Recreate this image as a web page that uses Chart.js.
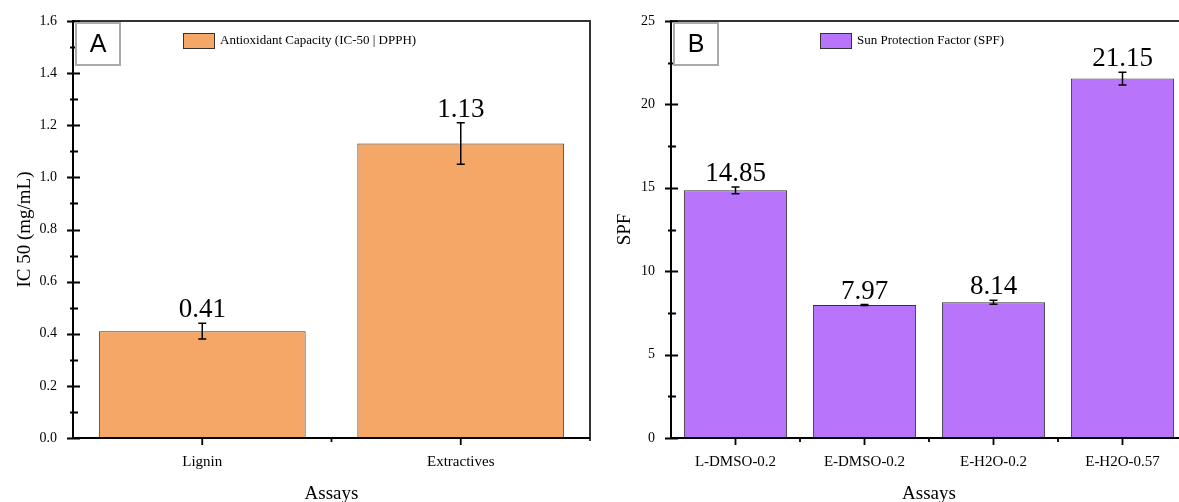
<!DOCTYPE html>
<html>
<head>
<meta charset="utf-8">
<script src="https://cdn.jsdelivr.net/npm/chart.js@4"></script>
<style>
  html, body { margin: 0; padding: 0; background: #fff; overflow: hidden; width: 1179px; height: 502px; }
  #wrapA { position: absolute; left: 0; top: 0; width: 600px; height: 502px; }
  #wrapB { position: absolute; left: 600px; top: 0; width: 600px; height: 502px; }
</style>
</head>
<body>
<div id="wrapA"><canvas id="canvasA"></canvas></div>
<div id="wrapB"><canvas id="canvasB"></canvas></div>
<script>
// Panel A - antioxidant capacity
const catsA = ['Lignin', 'Extractives'];
const valuesA = [0.41, 1.13];
const errorsA = [0.03, 0.08];
const labelsA = ['0.41', '1.13'];

// Panel B - sun protection factor
const catsB = ['L-DMSO-0.2', 'E-DMSO-0.2', 'E-H2O-0.2', 'E-H2O-0.57'];
const valuesB = [14.85, 7.97, 8.14, 21.55];
const errorsB = [0.2, 0.03, 0.12, 0.38];
const labelsB = ['14.85', '7.97', '8.14', '21.15'];

const serif = '"Liberation Serif", "Times New Roman", serif';

// error bars, value labels, frame, ticks, legend and panel letter
const decor = {
  id: 'decor',
  afterDatasetsDraw(chart, args, opts) {
    const { ctx, chartArea: a, scales: { x, y } } = chart;
    const meta = chart.getDatasetMeta(0);
    ctx.save();

    // error bars + labels
    meta.data.forEach((bar, i) => {
      const v = opts.values[i], e = opts.errors[i];
      const t = y.getPixelForValue(v + e), b = y.getPixelForValue(v - e);
      ctx.strokeStyle = '#000';
      ctx.lineWidth = 1.5;
      ctx.beginPath();
      ctx.moveTo(bar.x, t); ctx.lineTo(bar.x, b);
      ctx.moveTo(bar.x - 4, t); ctx.lineTo(bar.x + 4, t);
      ctx.moveTo(bar.x - 4, b); ctx.lineTo(bar.x + 4, b);
      ctx.stroke();
      ctx.fillStyle = '#000';
      ctx.font = '27px ' + serif;
      ctx.textAlign = 'center';
      ctx.textBaseline = 'alphabetic';
      ctx.fillText(opts.labels[i], bar.x, t - 6);
    });

    // frame top + right
    ctx.strokeStyle = '#333';
    ctx.lineWidth = 2;
    ctx.beginPath();
    ctx.moveTo(a.left, a.top); ctx.lineTo(a.right, a.top); ctx.lineTo(a.right, a.bottom + 3);
    ctx.stroke();

    // axes
    ctx.strokeStyle = '#000';
    ctx.beginPath();
    ctx.moveTo(a.left, a.top - 1); ctx.lineTo(a.left, a.bottom + 1);
    ctx.moveTo(a.left - 1, a.bottom); ctx.lineTo(a.right, a.bottom);
    ctx.stroke();

    // y ticks
    ctx.lineWidth = 1.8;
    ctx.beginPath();
    for (let v = y.min; v <= y.max + 1e-9; v += opts.minorStep) {
      const py = Math.round(y.getPixelForValue(v)) + 0.5;
      const major = Math.abs(v / opts.majorStep - Math.round(v / opts.majorStep)) < 1e-6;
      ctx.moveTo(a.left - (major ? 6 : 3), py);
      ctx.lineTo(a.left + (major ? 7 : 5), py);
    }
    // x ticks
    const n = opts.values.length;
    const w = (a.right - a.left) / n;
    for (let i = 0; i < n; i++) {
      const px = x.getPixelForValue(i);
      ctx.moveTo(px, a.bottom); ctx.lineTo(px, a.bottom + 7);
      if (i > 0) { ctx.moveTo(px - w / 2, a.bottom); ctx.lineTo(px - w / 2, a.bottom + 4); }
    }
    ctx.stroke();

    // legend
    const lx = a.left + opts.legendX, ly = a.top + 12;
    ctx.fillStyle = opts.color;
    ctx.fillRect(lx, ly, 31, 15);
    ctx.strokeStyle = '#333';
    ctx.lineWidth = 1;
    ctx.strokeRect(lx + 0.5, ly + 0.5, 31, 15);
    ctx.fillStyle = '#000';
    ctx.font = '13px ' + serif;
    ctx.textAlign = 'left';
    ctx.textBaseline = 'middle';
    ctx.fillText(opts.legend, lx + 37, ly + 8);

    // panel letter
    ctx.fillStyle = '#fff';
    ctx.fillRect(a.left + 2, a.top + 1, 46, 44);
    ctx.strokeStyle = '#aaa';
    ctx.lineWidth = 2;
    ctx.strokeRect(a.left + 3, a.top + 2, 44, 42);
    ctx.fillStyle = '#000';
    ctx.font = '25px "Liberation Sans", Arial, sans-serif';
    ctx.textAlign = 'center';
    ctx.fillText(opts.letter, a.left + 25, a.top + 24);
    ctx.restore();
  }
};

function makeChart(el, cats, values, color, yTitle, yMax, major, decorOpts, padRight, yWidth) {
  return new Chart(el, {
    type: 'bar',
    data: {
      labels: cats,
      datasets: [{
        data: values,
        backgroundColor: color,
        borderColor: '#333',
        borderWidth: 1,
        barPercentage: 0.8,
        categoryPercentage: 1.0
      }]
    },
    options: {
      responsive: true,
      maintainAspectRatio: false,
      animation: false,
      layout: { padding: { left: 0, right: padRight, top: 21, bottom: 0 } },
      plugins: {
        legend: { display: false },
        tooltip: { enabled: false },
        decor: decorOpts
      },
      scales: {
        x: {
          grid: { display: false },
          border: { display: false },
          ticks: { color: '#000', font: { family: serif, size: 15 }, padding: 7, maxRotation: 0 },
          title: { display: true, text: 'Assays', color: '#000', font: { family: serif, size: 19 }, padding: { top: 0, bottom: -3 } },
          afterFit(s) { s.height = 64; }
        },
        y: {
          min: 0,
          max: yMax,
          grid: { display: false },
          border: { display: false },
          ticks: {
            stepSize: major, color: '#000', font: { family: serif, size: 14 }, padding: 8,
            callback: v => major < 1 ? v.toFixed(1) : v
          },
          title: { display: true, text: yTitle, color: '#000', font: { family: serif, size: 19 }, padding: { top: 14, bottom: 0 } },
          afterFit(s) { s.width = yWidth; }
        }
      }
    },
    plugins: [decor]
  });
}

makeChart(document.getElementById('canvasA'), catsA, valuesA, '#F4A767', 'IC 50 (mg/mL)', 1.6, 0.2, {
  values: valuesA, errors: errorsA, labels: labelsA, majorStep: 0.2, minorStep: 0.1,
  legendX: 110, legend: 'Antioxidant Capacity (IC-50 | DPPH)', color: '#F4A767', letter: 'A'
}, 10, 73);

makeChart(document.getElementById('canvasB'), catsB, valuesB, '#B875FC', 'SPF', 25, 5, {
  values: valuesB, errors: errorsB, labels: labelsB, majorStep: 5, minorStep: 2.5,
  legendX: 149, legend: 'Sun Protection Factor (SPF)', color: '#B875FC', letter: 'B'
}, 13, 71);
</script>
</body>
</html>
